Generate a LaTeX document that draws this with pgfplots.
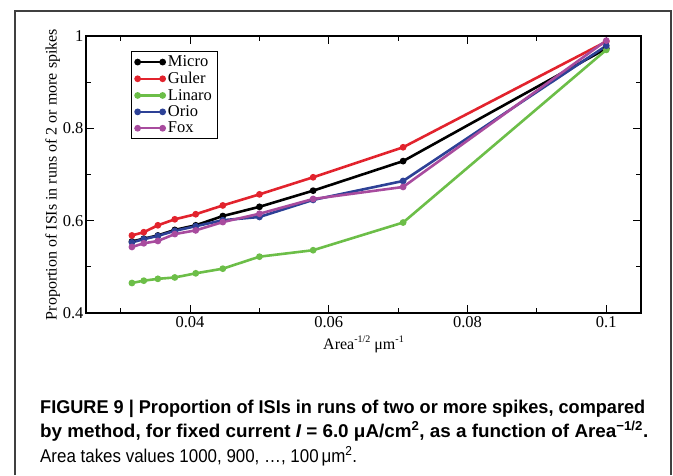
\documentclass[border=0pt]{standalone}
\usepackage{pgfplots}
\pgfplotsset{compat=1.18}
\usepackage{graphicx}
\usepackage{fontspec}
\setmainfont{Liberation Serif}
\newfontfamily\capfont{Liberation Sans}
\definecolor{cMicro}{RGB}{0,0,0}
\definecolor{cGuler}{RGB}{226,35,45}
\definecolor{cLinaro}{RGB}{108,190,72}
\definecolor{cOrio}{RGB}{45,65,150}
\definecolor{cFox}{RGB}{168,75,158}
\begin{document}
\begin{tikzpicture}[x=1pt,y=1pt]
\path[use as bounding box] (-86,-162) rectangle (587,313);
\draw[line width=1.2pt,black!75] (-71,-162) -- (-71,302) -- (585,302) -- (585,-162);
\begin{axis}[
  at={(0,0)}, anchor=south west,
  scale only axis, width=555pt, height=277pt,
  xmin=0.025, xmax=0.105, ymin=0.4, ymax=1,
  xtick={0.04,0.06,0.08,0.1},
  minor xtick={0.03,0.05,0.07,0.09},
  ytick={0.4,0.6,0.8,1},
  minor ytick={0.5,0.7,0.9},
  tick align=inside, tick pos=both,
  major tick length=8pt, minor tick length=5pt,
  every tick/.style={black,line width=1pt},
  axis line style={line width=1.2pt},
  /pgf/number format/assume math mode=true,
  /pgf/number format/fixed,
  tick label style={font=\fontsize{16.5}{18}\selectfont},
  xticklabel style={yshift=0pt},
  yticklabel style={xshift=1pt},
  xlabel={Area\raisebox{0.45em}{\fontsize{10}{10}\selectfont -1/2} μm\raisebox{0.45em}{\fontsize{10}{10}\selectfont -1}},
  ylabel={Proportion of ISIs in runs of 2 or more spikes},
  label style={font=\fontsize{16}{18}\selectfont},
  xlabel style={yshift=-1pt},
  ylabel style={yshift=-4pt},
  legend style={at={(0.081,0.946)}, anchor=north west, draw=black, line width=0.8pt,
    font=\fontsize{16.5}{16.5}\selectfont, inner xsep=3pt, inner ysep=2.5pt, row sep=0pt,
    cells={anchor=west}},
  legend image code/.code={\draw[#1, line width=2.5pt] (0pt,0pt) -- (25pt,0pt);
     \fill[#1] (0pt,0pt) circle (2pt); \fill[#1] (25pt,0pt) circle (2pt);},
  every axis plot/.append style={line width=2.6pt, mark=*, mark size=2pt},
]
\addplot[color=cMicro] coordinates {(0.03162,0.555) (0.03333,0.561) (0.03536,0.568) (0.03780,0.580) (0.04082,0.590) (0.04472,0.610) (0.05,0.630) (0.05774,0.665) (0.07071,0.729) (0.1,0.973)};
\addplot[color=cGuler] coordinates {(0.03162,0.568) (0.03333,0.575) (0.03536,0.590) (0.03780,0.603) (0.04082,0.614) (0.04472,0.633) (0.05,0.657) (0.05774,0.694) (0.07071,0.759) (0.1,0.988)};
\addplot[color=cLinaro] coordinates {(0.03162,0.465) (0.03333,0.470) (0.03536,0.474) (0.03780,0.477) (0.04082,0.486) (0.04472,0.496) (0.05,0.522) (0.05774,0.536) (0.07071,0.596) (0.1,0.970)};
\addplot[color=cOrio] coordinates {(0.03162,0.553) (0.03333,0.560) (0.03536,0.567) (0.03780,0.578) (0.04082,0.588) (0.04472,0.601) (0.05,0.608) (0.05774,0.645) (0.07071,0.686) (0.1,0.979)};
\addplot[color=cFox] coordinates {(0.03162,0.543) (0.03333,0.551) (0.03536,0.556) (0.03780,0.571) (0.04082,0.579) (0.04472,0.597) (0.05,0.615) (0.05774,0.647) (0.07071,0.673) (0.1,0.990)};
\legend{Micro,Guler,Linaro,Orio,Fox}
\end{axis}
\node[anchor=base west, inner sep=0pt] at (-46,-100) {\resizebox{605pt}{\height}{\capfont\bfseries\fontsize{18.5}{20}\selectfont FIGURE 9 | Proportion of ISIs in runs of two or more spikes, compared}};
\node[anchor=base west, inner sep=0pt] at (-46,-124) {\resizebox{608pt}{\height}{\capfont\bfseries\fontsize{18.5}{20}\selectfont by method, for fixed current {\itshape I} = 6.0 μA/cm\textsuperscript{2}, as a function of Area\textsuperscript{−1/2}.}};
\node[anchor=base west, inner sep=0pt] at (-46,-149) {\resizebox{317pt}{\height}{\capfont\fontsize{18.5}{20}\selectfont Area takes values 1000, 900, \dots, 100\,μm\textsuperscript{2}.}};
\end{tikzpicture}
\end{document}
